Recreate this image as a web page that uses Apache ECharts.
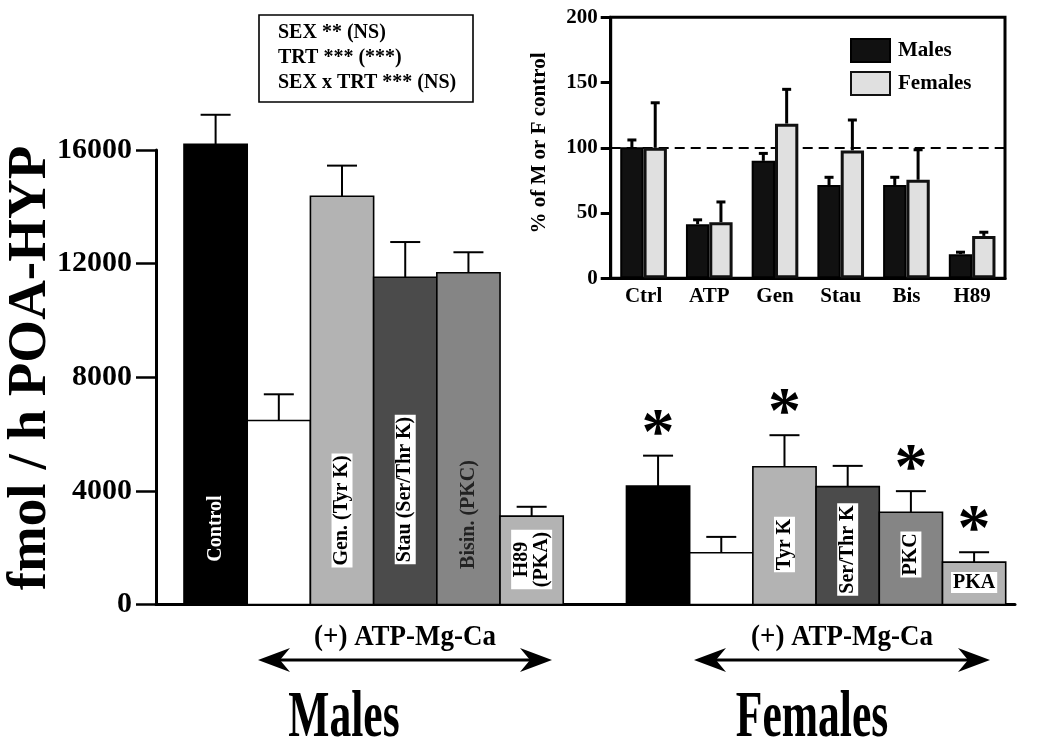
<!DOCTYPE html>
<html><head><meta charset="utf-8">
<script src="https://cdn.jsdelivr.net/npm/echarts@6/dist/echarts.min.js"></script>
<style>html,body{margin:0;padding:0;background:#fff}#c{width:1050px;height:748px}</style>
</head><body><div id="c"></div><script>
// ---------- data ----------
const treatments = ['Control', 'ATP', 'Gen', 'Stau', 'Bisin', 'H89'];
const maleValues = [16200, 6480, 14370, 11520, 11680, 3110];
const maleErrors = [1040, 920, 1080, 1240, 720, 330];
const femaleValues = [4170, 1820, 4850, 4150, 3250, 1490];
const femaleErrors = [1070, 560, 1110, 730, 740, 350];
const femaleSignificant = [true, false, true, false, true, true];
const maleBarLabels = ['Control', '', 'Gen. (Tyr K)', 'Stau (Ser/Thr K)', 'Bisin. (PKC)', 'H89\n(PKA)'];
const femaleBarLabels = ['', '', 'Tyr K', 'Ser/Thr K', 'PKC', 'PKA'];
const mainTicks = [0, 4000, 8000, 12000, 16000];
const groupNames = ['Males', 'Females'];
const treatmentNote = '(+) ATP-Mg-Ca';
const statsLines = ['SEX ** (NS)', 'TRT *** (***)', 'SEX x TRT *** (NS)'];

const insetCategories = ['Ctrl', 'ATP', 'Gen', 'Stau', 'Bis', 'H89'];
const insetMales = [100.5, 41.5, 90, 71.5, 71.5, 18.5];
const insetMalesErr = [5.5, 3.3, 5.7, 5.9, 5.9, 1.5];
const insetFemales = [100, 43, 118.5, 98, 75.5, 32.5];
const insetFemalesErr = [34.5, 15.5, 26.3, 23.3, 23, 2.8];
const insetTicks = [0, 50, 100, 150, 200];
const insetRef = 100;

// ---------- styles ----------
const SERIF = '"Liberation Serif", "Times New Roman", serif';
const barColors = ['#000000', '#ffffff', '#b3b3b3', '#4b4b4b', '#858585', '#b3b3b3'];
// label style per treatment: text colour, background, distance of label centre above baseline (px), rotated
const maleLabelStyle = [
  {fill: '#fff', bg: null, up: 76, rot: true},
  null,
  {fill: '#000', bg: '#fff', up: 94, rot: true},
  {fill: '#000', bg: '#fff', up: 115, rot: true},
  {fill: '#222', bg: null, up: 90, rot: true},
  {fill: '#000', bg: '#fff', up: 45, rot: true}
];
const femaleLabelStyle = [
  null, null,
  {fill: '#000', bg: '#fff', up: 60, rot: true},
  {fill: '#000', bg: '#fff', up: 55, rot: true},
  {fill: '#000', bg: '#fff', up: 50, rot: true},
  {fill: '#000', bg: '#fff', up: 22, rot: false}
];
const groupStart = [0.443, 7.443];   // slot offset of each group on the hidden x scale (1 unit = one bar)

// ---------- build main data ----------
const mainData = [];
[maleValues, femaleValues].forEach((vals, g) => {
  const errs = g === 0 ? maleErrors : femaleErrors;
  vals.forEach((v, i) => {
    mainData.push([groupStart[g] + i, v, errs[i], g, i]);
  });
});

function renderMainBar(params, api) {
  const x0 = api.value(0), v = api.value(1), e = api.value(2);
  const g = api.value(3), t = api.value(4);
  const pb = api.coord([x0, 0]);
  const pt = api.coord([x0 + 1, v]);
  const pe = api.coord([x0 + 0.5, v + e]);
  const cx = (pb[0] + pt[0]) / 2;
  const children = [
    {type: 'rect', shape: {x: pb[0], y: pt[1], width: pt[0] - pb[0], height: pb[1] - pt[1]},
     style: {fill: barColors[t], stroke: '#000', lineWidth: 1.6}},
    {type: 'line', shape: {x1: cx, y1: pt[1], x2: cx, y2: pe[1]}, style: {stroke: '#000', lineWidth: 2}},
    {type: 'line', shape: {x1: cx - 15, y1: pe[1], x2: cx + 15, y2: pe[1]}, style: {stroke: '#000', lineWidth: 2}}
  ];
  const lbl = g === 0 ? maleBarLabels[t] : femaleBarLabels[t];
  const ls = g === 0 ? maleLabelStyle[t] : femaleLabelStyle[t];
  if (lbl && ls) {
    const st = {text: lbl, fill: ls.fill, font: 'bold 20px ' + SERIF,
      align: 'center', verticalAlign: 'middle', textAlign: 'center', textVerticalAlign: 'middle',
      lineHeight: 20};
    if (ls.bg) { st.backgroundColor = ls.bg; st.padding = [1, 2, 0, 2]; }
    children.push({type: 'text', x: cx, y: pb[1] - ls.up, rotation: ls.rot ? Math.PI / 2 : 0, style: st});
  }
  if (g === 1 && femaleSignificant[t]) {
    children.push({type: 'text', x: cx, y: pe[1] - 20,
      style: {text: '*', fill: '#000', font: 'bold 66px ' + SERIF, align: 'center', verticalAlign: 'middle',
        textAlign: 'center', textVerticalAlign: 'middle'}});
  }
  return {type: 'group', children: children};
}

// ---------- inset error bars ----------
const insetErrData = [];
insetMales.forEach((v, i) => insetErrData.push([i, v, insetMalesErr[i], 0]));
insetFemales.forEach((v, i) => insetErrData.push([i, v, insetFemalesErr[i], 1]));
const insetCatGap = 0.29;
function renderInsetErr(params, api) {
  const c = api.value(0), v = api.value(1), e = api.value(2), s = api.value(3);
  const band = api.size([1, 0])[0];
  const bw = band * (1 - insetCatGap) / 2;
  const base = api.coord([c, v]);
  const top = api.coord([c, v + e]);
  const cx = base[0] + (s === 0 ? -bw / 2 : bw / 2);
  return {type: 'group', children: [
    {type: 'line', shape: {x1: cx, y1: base[1], x2: cx, y2: top[1]}, style: {stroke: '#000', lineWidth: 3}},
    {type: 'line', shape: {x1: cx - 4.5, y1: top[1], x2: cx + 4.5, y2: top[1]}, style: {stroke: '#000', lineWidth: 3}}
  ]};
}

// ---------- graphics ----------
function arrow(x1, x2, y) {
  const L = 32, H = 12, N = 22;
  return [
    {type: 'line', shape: {x1: x1 + 10, y1: y, x2: x2 - 10, y2: y}, style: {stroke: '#000', lineWidth: 3}},
    {type: 'polygon', shape: {points: [[x1, y], [x1 + L, y - H], [x1 + N, y], [x1 + L, y + H]]}, style: {fill: '#000'}},
    {type: 'polygon', shape: {points: [[x2, y], [x2 - L, y - H], [x2 - N, y], [x2 - L, y + H]]}, style: {fill: '#000'}}
  ];
}
const graphics = [];
graphics.push({type: 'text', x: 31, y: 368, rotation: Math.PI / 2,
  style: {text: 'fmol / h POA-HYP', font: 'bold 55px ' + SERIF, fill: '#000', textAlign: 'center', textVerticalAlign: 'middle', align: 'center', verticalAlign: 'middle'}});
graphics.push({type: 'rect', shape: {x: 259, y: 15, width: 214, height: 87}, style: {fill: '#fff', stroke: '#000', lineWidth: 1.6}});
statsLines.forEach((s, i) => graphics.push({type: 'text', x: 278, y: 33 + i * 25,
  style: {text: s, font: 'bold 20px ' + SERIF, fill: '#000', textAlign: 'left', textVerticalAlign: 'middle', align: 'left', verticalAlign: 'middle'}}));
graphics.push({type: 'text', x: 540, y: 143, rotation: Math.PI / 2,
  style: {text: '% of M or F control', font: 'bold 21px ' + SERIF, fill: '#000', textAlign: 'center', textVerticalAlign: 'middle', align: 'center', verticalAlign: 'middle'}});
[[258, 552], [694, 990]].forEach((a, i) => {
  arrow(a[0], a[1], 660).forEach(el => graphics.push(el));
  graphics.push({type: 'text', x: (a[0] + a[1]) / 2, y: 638, scaleX: 0.93,
    style: {text: treatmentNote, font: 'bold 29px ' + SERIF, fill: '#000', textAlign: 'center', textVerticalAlign: 'middle', align: 'center', verticalAlign: 'middle'}});
});
[[344, 'Males'], [812, 'Females']].forEach((m, i) => graphics.push({type: 'text', x: m[0], y: 719, scaleX: 0.66,
  style: {text: groupNames[i], font: 'bold 66px ' + SERIF, fill: '#000', textAlign: 'center', textVerticalAlign: 'middle', align: 'center', verticalAlign: 'middle'}}));

// ---------- chart ----------
const chart = echarts.init(document.getElementById('c'), null, {renderer: 'canvas'});
chart.setOption({
  animation: false,
  backgroundColor: '#fff',
  textStyle: {fontFamily: SERIF},
  grid: [
    {left: 156, right: 35, top: 150, bottom: 143.5},
    {left: 610.7, top: 17.3, width: 394.3, height: 261, show: true, borderColor: '#000', borderWidth: 3, backgroundColor: '#fff', z: 5}
  ],
  xAxis: [
    {type: 'value', gridIndex: 0, min: 0, max: 13.59, axisLine: {show: true, onZero: false, lineStyle: {color: '#000', width: 3}},
     axisTick: {show: false}, axisLabel: {show: false}, splitLine: {show: false}},
    {type: 'category', gridIndex: 1, data: insetCategories, z: 6,
     axisLine: {show: true, lineStyle: {color: '#000', width: 3}}, axisTick: {show: false},
     axisLabel: {color: '#000', fontWeight: 'bold', fontSize: 21, fontFamily: SERIF, margin: 8}}
  ],
  yAxis: [
    {type: 'value', gridIndex: 0, min: mainTicks[0], max: mainTicks[mainTicks.length - 1], interval: mainTicks[1] - mainTicks[0],
     axisLine: {show: true, lineStyle: {color: '#000', width: 3}},
     axisTick: {show: true, length: 20, lineStyle: {color: '#000', width: 2.5}},
     axisLabel: {color: '#000', fontWeight: 'bold', fontSize: 30, fontFamily: SERIF, margin: 24, formatter: v => String(v)},
     splitLine: {show: false}},
    {type: 'value', gridIndex: 1, min: insetTicks[0], max: insetTicks[insetTicks.length - 1], interval: insetTicks[1] - insetTicks[0], z: 6,
     axisLine: {show: true, lineStyle: {color: '#000', width: 3}},
     axisTick: {show: true, length: 10, lineStyle: {color: '#000', width: 3}},
     axisLabel: {color: '#000', fontWeight: 'bold', fontSize: 21, fontFamily: SERIF, margin: 13},
     splitLine: {show: false}}
  ],
  legend: {
    data: ['Males', 'Females'], orient: 'vertical', left: 845, top: 33, itemWidth: 39, itemHeight: 23, itemGap: 8,
    icon: 'rect', textStyle: {color: '#000', fontWeight: 'bold', fontSize: 21, fontFamily: SERIF, padding: [0, 0, 0, 3]}, z: 10
  },
  series: [
    {type: 'custom', xAxisIndex: 0, yAxisIndex: 0, data: mainData, renderItem: renderMainBar, clip: false, z: 3},
    {type: 'line', xAxisIndex: 1, yAxisIndex: 1, data: [], z: 6, silent: true,
     markLine: {silent: true, symbol: 'none', label: {show: false}, lineStyle: {color: '#000', width: 2, type: [10, 6]},
       data: [{yAxis: insetRef}]}},
    {name: 'Males', type: 'bar', xAxisIndex: 1, yAxisIndex: 1, data: insetMales, barGap: '0%', barCategoryGap: (insetCatGap * 100) + '%', z: 7,
     itemStyle: {color: '#111', borderColor: '#000', borderWidth: 2}},
    {name: 'Females', type: 'bar', xAxisIndex: 1, yAxisIndex: 1, data: insetFemales, barGap: '0%', barCategoryGap: (insetCatGap * 100) + '%', z: 7,
     itemStyle: {color: '#e0e0e0', borderColor: '#111', borderWidth: 3}},
    {type: 'custom', xAxisIndex: 1, yAxisIndex: 1, data: insetErrData, renderItem: renderInsetErr, z: 6, clip: false}
  ],
  graphic: {elements: graphics}
});
</script></body></html>
